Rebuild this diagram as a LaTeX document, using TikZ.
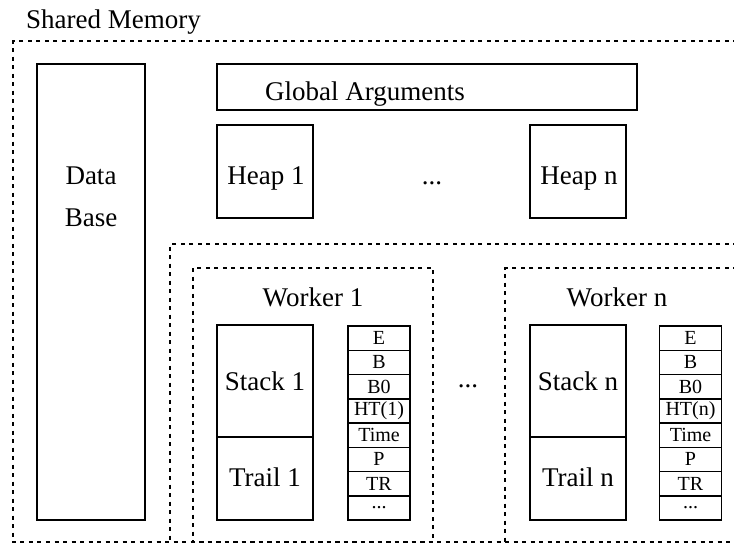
\documentclass[tikz,border=0pt]{standalone}
\usepackage{fontspec}
\setmainfont{Liberation Serif}
\begin{document}
\begin{tikzpicture}[x=1pt,y=-1pt,
  box/.style={draw, line width=1.8pt, inner sep=0pt},
  big/.style={font=\fontsize{27}{32}\selectfont, inner sep=0pt, anchor=base},
  reg/.style={draw, line width=1.5pt, minimum width=62pt, minimum height=24.25pt, inner sep=0pt, font=\fontsize{20}{22}\selectfont},
  dotbox/.style={line width=2pt, dash pattern=on 4pt off 4.5pt}]
\useasboundingbox (0,0) rectangle (734,544);
% dotted regions
\draw[dotbox] (737,41) -- (13,41) -- (13,542) -- (737,542);
\draw[dotbox] (737,244) -- (170,244) -- (170,542);
\draw[dotbox] (193,268) rectangle (433,542);
\draw[dotbox] (737,268) -- (505,268) -- (505,542);
\node[big, anchor=base west] (sm) at (26,28) {Shared Memory};
% data base
\node[box, minimum width=108pt, minimum height=456pt] (db) at (91,292) {};
\node[big] (dbt1) at (91,184) {Data};
\node[big] (dbt2) at (91,226) {Base};
% global args and heaps
\node[box, minimum width=420pt, minimum height=46pt] (ga) at (427,87) {};
\node[big, anchor=base west] (gat) at (265,100) {Global Arguments};
\node[box, minimum width=96pt, minimum height=93pt] (h1) at (265,171.5) {};
\node[big] (h1t) at (266,184) {Heap 1};
\node[big] (hd) at (432,184) {...};
\node[box, minimum width=96pt, minimum height=93pt] (hn) at (578,171.5) {};
\node[big] (hnt) at (579,184) {Heap n};
% workers
\node[big] (w1) at (313,306) {Worker 1};
\node[big] (wn) at (617,306) {Worker n};
\node[box, minimum width=96pt, minimum height=112pt] (s1) at (265,381) {};
\node[box, minimum width=96pt, minimum height=83pt] (t1) at (265,478.5) {};
\node[big] (s1t) at (265,390) {Stack 1};
\node[big] (t1t) at (265,486) {Trail 1};
\node[box, minimum width=96pt, minimum height=112pt] (sn) at (578,381) {};
\node[box, minimum width=96pt, minimum height=83pt] (tn) at (578,478.5) {};
\node[big] (snt) at (578,390) {Stack n};
\node[big] (tnt) at (578,486) {Trail n};
\node[big] (wd) at (468,387) {...};
% register columns
\node[reg] (ra0) at (379,338.125) {E};
\node[reg] (ra1) at (379,362.375) {B};
\node[reg] (ra2) at (379,386.625) {B0};
\node[reg] (ra3) at (379,410.875) {HT(1)};
\node[reg] (ra4) at (379,435.125) {Time};
\node[reg] (ra5) at (379,459.375) {P};
\node[reg] (ra6) at (379,483.625) {TR};
\node[reg] (ra7) at (379,507.875) {...};
\node[reg] (rb0) at (690.5,338.125) {E};
\node[reg] (rb1) at (690.5,362.375) {B};
\node[reg] (rb2) at (690.5,386.625) {B0};
\node[reg] (rb3) at (690.5,410.875) {HT(n)};
\node[reg] (rb4) at (690.5,435.125) {Time};
\node[reg] (rb5) at (690.5,459.375) {P};
\node[reg] (rb6) at (690.5,483.625) {TR};
\node[reg] (rb7) at (690.5,507.875) {...};
\end{tikzpicture}
\end{document}
